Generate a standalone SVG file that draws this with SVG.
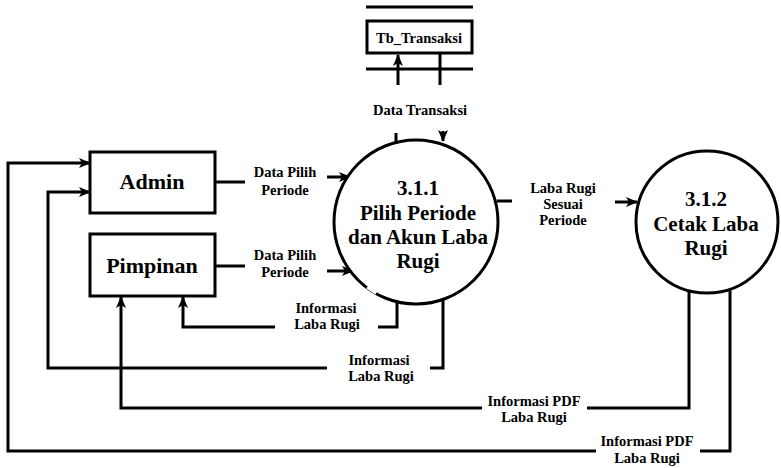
<svg xmlns="http://www.w3.org/2000/svg" width="781" height="468" viewBox="0 0 781 468">
<defs>
<marker id="ah" markerUnits="userSpaceOnUse" markerWidth="12" markerHeight="10" refX="11" refY="5" orient="auto">
<path d="M0,0 L12,5 L0,10 L3,5 Z" fill="#000"/>
</marker>
<style>
.ln{fill:none;stroke:#000;stroke-width:3}
.arr{fill:none;stroke:#000;stroke-width:3;marker-end:url(#ah)}
.shape{fill:#fff;stroke:#000;stroke-width:3}
.big{font-family:"Liberation Serif","Times New Roman",serif;font-weight:bold;font-size:21px;text-anchor:middle;fill:#000}
.ent{font-family:"Liberation Serif","Times New Roman",serif;font-weight:bold;font-size:22px;text-anchor:middle;fill:#000}
.lbl{font-family:"Liberation Serif","Times New Roman",serif;font-weight:bold;font-size:14.5px;text-anchor:middle;fill:#000}
</style>
</defs>
<rect width="781" height="468" fill="#fff"/>

<g id="connectors">
<!-- Admin -> 3.1.1 -->
<line class="ln" x1="215" y1="182" x2="245" y2="182"/>
<line class="arr" x1="327" y1="177" x2="350" y2="177"/>
<!-- Pimpinan -> 3.1.1 -->
<line class="ln" x1="215" y1="266" x2="245" y2="266"/>
<line class="arr" x1="327" y1="271" x2="353" y2="271"/>
<!-- 3.1.1 <-> Tb_Transaksi -->
<line class="arr" x1="398" y1="85" x2="398" y2="55"/>
<line class="ln" x1="440" y1="53" x2="440" y2="85"/>
<line class="ln" x1="396" y1="133" x2="396" y2="143"/>
<line class="arr" x1="443" y1="131" x2="443" y2="141"/>
<!-- 3.1.1 -> 3.1.2 -->
<line class="ln" x1="497" y1="201" x2="512" y2="201"/>
<line class="arr" x1="615" y1="202" x2="637" y2="202"/>
<!-- 3.1.1 -> Pimpinan -->
<polyline class="ln" points="397,302 397,327 378,327"/>
<polyline class="arr" points="275,327 183,327 183,297"/>
<!-- 3.1.1 -> Admin -->
<polyline class="ln" points="443,293 443,368 430,368"/>
<polyline class="arr" points="327,368 48,368 48,192 90,192"/>
<!-- 3.1.2 -> Pimpinan -->
<polyline class="ln" points="689,291 689,408 587,408"/>
<polyline class="arr" points="482,408 121,408 121,297"/>
<!-- 3.1.2 -> Admin -->
<polyline class="ln" points="730,289 730,451 700,451"/>
<polyline class="arr" points="596,451 8,451 8,163 90,163"/>

<text class="lbl" x="285" y="177">Data Pilih</text>
<text class="lbl" x="285" y="195">Periode</text>
<text class="lbl" x="285" y="260">Data Pilih</text>
<text class="lbl" x="285" y="277">Periode</text>
<text class="lbl" x="420" y="115">Data Transaksi</text>
<text class="lbl" x="563" y="193">Laba Rugi</text>
<text class="lbl" x="563" y="209">Sesuai</text>
<text class="lbl" x="563" y="225">Periode</text>
<text class="lbl" x="326" y="313">Informasi</text>
<text class="lbl" x="327" y="329">Laba Rugi</text>
<text class="lbl" x="379" y="365">Informasi</text>
<text class="lbl" x="381" y="381">Laba Rugi</text>
<text class="lbl" x="534" y="406">Informasi PDF</text>
<text class="lbl" x="534" y="422">Laba Rugi</text>
<text class="lbl" x="647" y="446">Informasi PDF</text>
<text class="lbl" x="647" y="463">Laba Rugi</text>
</g>

<g id="tb_transaksi">
<line class="ln" x1="366" y1="7" x2="473" y2="7"/>
<rect class="shape" x="367" y="21" width="105" height="32"/>
<line class="ln" x1="366" y1="69" x2="473" y2="69"/>
<text class="lbl" x="419" y="43">Tb_Transaksi</text>
</g>

<g id="admin">
<rect class="shape" x="90" y="152" width="125" height="61"/>
<text class="ent" x="152" y="189">Admin</text>
</g>

<g id="pimpinan">
<rect class="shape" x="90" y="234" width="125" height="62"/>
<text class="ent" x="152" y="273">Pimpinan</text>
</g>

<g id="p311">
<circle class="shape" cx="416" cy="222" r="82"/>
<line x1="368" y1="286" x2="377" y2="292" stroke="#fff" stroke-width="6"/>
<text class="big" x="418" y="195">3.1.1</text>
<text class="big" x="418" y="220">Pilih Periode</text>
<text class="big" x="418" y="244">dan Akun Laba</text>
<text class="big" x="418" y="268">Rugi</text>
</g>

<g id="p312">
<circle class="shape" cx="707" cy="222" r="71"/>
<text class="big" x="706" y="206">3.1.2</text>
<text class="big" x="706" y="231">Cetak Laba</text>
<text class="big" x="706" y="255">Rugi</text>
</g>
</svg>
